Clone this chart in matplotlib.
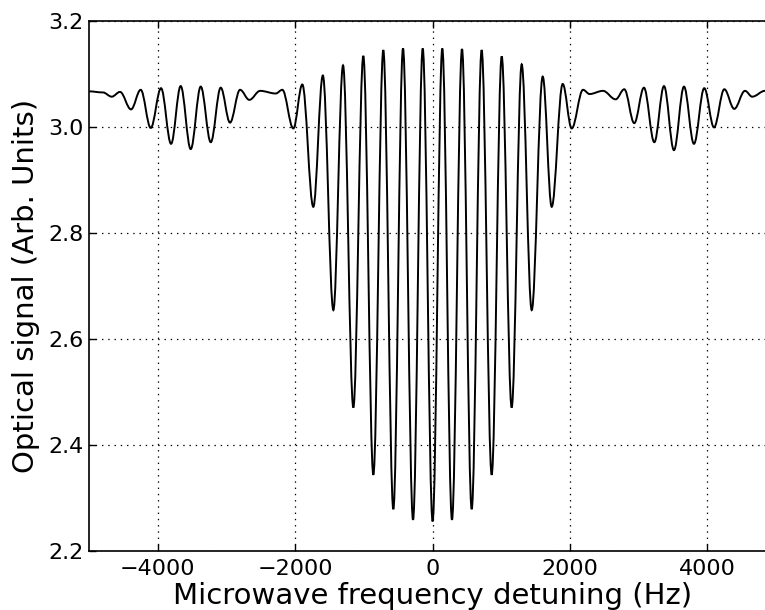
import matplotlib
matplotlib.use("Agg")
import matplotlib.pyplot as plt
from matplotlib.path import Path
from matplotlib.patches import PathPatch

# Extrema / turning points of the fringe trace
detuning_hz = [-5000, -4800, -4672, -4551, -4391, -4250, -4104, -3954, -3808, -3668,
               -3522, -3376, -3230, -3085, -2950, -2804, -2668, -2511, -2284, -2188,
               -2028, -1897, -1737, -1598, -1445, -1304, -1154, -1009, -863, -718,
               -572, -431, -285, -144, 0, 141, 282, 428, 569, 714,
               860, 1006, 1151, 1297, 1443, 1603, 1734, 1894, 2025, 2190,
               2286, 2480, 2665, 2791, 2936, 3077, 3228, 3369, 3514, 3660,
               3805, 3955, 4097, 4247, 4392, 4548, 4654, 4839, 4950]
signal = [3.068, 3.066, 3.058, 3.067, 3.034, 3.071, 2.999, 3.074, 2.969, 3.078,
          2.959, 3.077, 2.972, 3.075, 3.009, 3.071, 3.052, 3.069, 3.064, 3.071,
          2.998, 3.081, 2.850, 3.098, 2.655, 3.117, 2.471, 3.135, 2.344, 3.146,
          2.279, 3.149, 2.259, 3.149, 2.256, 3.149, 2.259, 3.148, 2.279, 3.146,
          2.344, 3.134, 2.471, 3.119, 2.655, 3.096, 2.850, 3.082, 2.998, 3.071,
          3.063, 3.069, 3.053, 3.072, 3.008, 3.075, 2.972, 3.078, 2.957, 3.077,
          2.969, 3.074, 3.000, 3.072, 3.035, 3.069, 3.058, 3.069, 3.068]

x_ticks = [-4000, -2000, 0, 2000, 4000]
y_ticks = [2.2, 2.4, 2.6, 2.8, 3.0, 3.2]
x_label = "Microwave frequency detuning (Hz)"
y_label = "Optical signal (Arb. Units)"

plt.rcParams['font.family'] = ['DejaVu Sans']
plt.rcParams['lines.scale_dashes'] = False

fig = plt.figure(figsize=(7.65, 6.10), dpi=100, facecolor='white')
ax = fig.add_axes([0.1166, 0.0966, 0.8978, 0.8682])

# smooth trace: cubic segments with horizontal tangents at each turning point
k = 0.3634
verts = [(detuning_hz[0], signal[0])]
codes = [Path.MOVETO]
for i in range(len(detuning_hz) - 1):
    x0, y0 = detuning_hz[i], signal[i]
    x1, y1 = detuning_hz[i + 1], signal[i + 1]
    dx = x1 - x0
    verts += [(x0 + k * dx, y0), (x1 - k * dx, y1), (x1, y1)]
    codes += [Path.CURVE4, Path.CURVE4, Path.CURVE4]
trace = PathPatch(Path(verts, codes), facecolor='none', edgecolor='black',
                  linewidth=1.4, zorder=3)
ax.add_patch(trace)

ax.set_xlim(-5000, 5000)
ax.set_ylim(2.2, 3.2)
ax.set_xticks(x_ticks)
ax.set_yticks(y_ticks)
ax.set_yticklabels([f"{v:.1f}" for v in y_ticks])
ax.grid(True, color='black', linestyle=(0, (1, 3.5)), linewidth=0.9)
ax.set_axisbelow(True)
ax.tick_params(direction='in', length=5, width=1, top=True, right=True,
               labelsize=16, pad=6)
ax.tick_params(axis='y', pad=4)
for s in ax.spines.values():
    s.set_linewidth(1.2)

ax.set_xlabel(x_label, fontsize=21, labelpad=2)
ax.set_ylabel(y_label, fontsize=21, labelpad=6)

fig.savefig("out.png", dpi=100, facecolor='white')
